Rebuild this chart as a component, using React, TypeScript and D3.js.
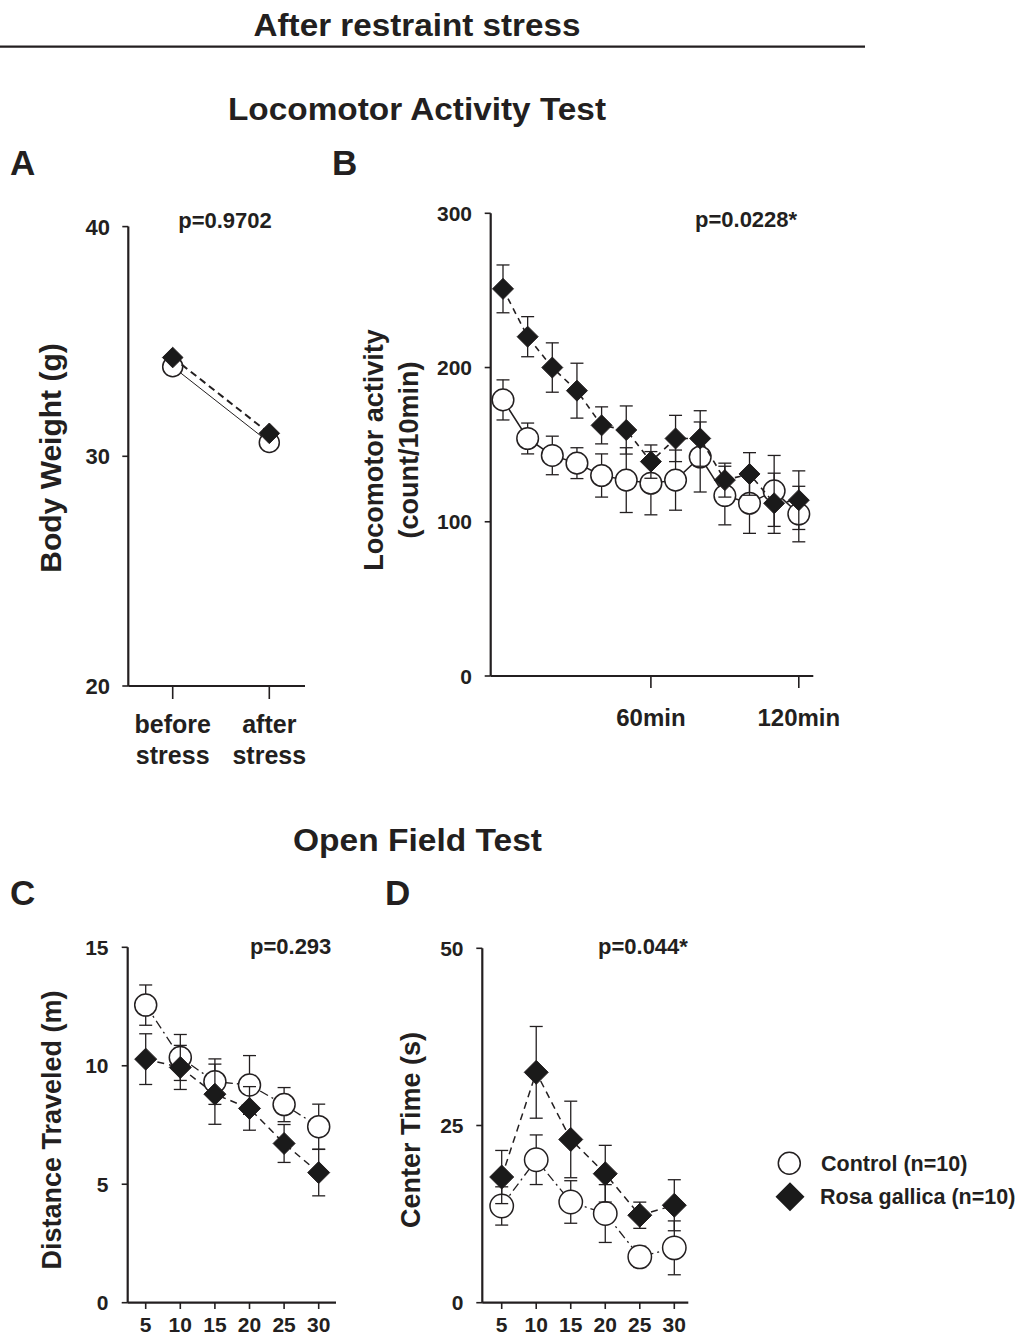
import React from 'react';
import * as d3 from 'd3';

const INK = '#231f20';
const FONT = '"Liberation Sans", Arial, Helvetica, sans-serif';

// A: body weight
const phases = ['before stress', 'after stress'];
const weightControl = [33.9, 30.6];
const weightRosa = [34.3, 31.0];
const weightTicks = [20, 30, 40];

// B: locomotor activity (count/10min)
const locoTimes = [0, 10, 20, 30, 40, 50, 60, 70, 80, 90, 100, 110, 120];
const locoControl = [179, 154, 143, 138, 130, 127, 125, 127, 142, 117, 112, 120, 105];
const locoControlErr = [13, 10, 12.5, 10, 14, 21, 20.5, 19.5, 22.7, 19, 19.5, 23, 18];
const locoRosa = [251, 220, 200, 185, 162.5, 159.5, 139, 154, 154, 127, 131, 112, 114];
const locoRosaErr = [15.5, 13, 16, 17.8, 12, 15.6, 10.8, 15, 18, 11, 13.8, 19.5, 19];
const locoTicks = [0, 100, 200, 300];
const locoTimeTicks = [60, 120];

// C, D: open field
const ofTimes = [5, 10, 15, 20, 25, 30];
const distControl = [12.56, 10.35, 9.33, 9.19, 8.36, 7.43];
const distControlErr = [0.85, 0.97, 0.96, 1.24, 0.72, 0.95];
const distRosa = [10.28, 9.93, 8.8, 8.2, 6.72, 5.49];
const distRosaErr = [1.07, 0.93, 1.27, 0.92, 0.8, 0.98];
const distTicks = [0, 5, 10, 15];
const centerControl = [13.65, 20.17, 14.21, 12.58, 6.47, 7.74];
const centerControlErr = [2.7, 3.5, 3.0, 4.08, 1.5, 3.8];
const centerRosa = [17.73, 32.5, 23.03, 18.2, 12.34, 13.75];
const centerRosaErr = [3.75, 6.47, 5.4, 4.0, 1.85, 3.6];
const centerTicks = [0, 25, 50];

const legendLabels = ['Control (n=10)', 'Rosa gallica (n=10)'];

function diamond(cx: number, cy: number, h: number) {
  return `M${cx},${cy - h}L${cx + h},${cy}L${cx},${cy + h}L${cx - h},${cy}Z`;
}

/**
 * Left axis with ticks and labels
 */
function YAxis({ y, ticks, x, labelEnd, size = 21 }) {
  const [y0, y1] = y.range();
  return <g>
    <line x1={x} x2={x} y1={y0} y2={y1} stroke={INK} strokeWidth={2.2} />
    {ticks.map((t) => <g key={t}>
      <line x1={x - 6} x2={x} y1={y(t)} y2={y(t)} stroke={INK} strokeWidth={1.6} />
      <text x={labelEnd} y={y(t)} dy='0.36em' textAnchor='end' fontSize={size} fontWeight='bold' fill={INK}>{t}</text>
    </g>)}
  </g>;
}

/**
 * One group: error bars, connecting line, markers
 */
function Series({ xs, vals, errs, x, y, kind, size, dash, lineWidth, cap = 6.5 }) {
  const pts = xs.map((d, i) => [x(d), y(vals[i])]);
  const line = d3.line();
  return <g>
    {errs && pts.map(([px], i) => {
      const top = y(vals[i] + errs[i]);
      const bot = y(vals[i] - errs[i]);
      return <g key={i} stroke={INK} strokeWidth={1.3}>
        <line x1={px} x2={px} y1={top} y2={bot} />
        <line x1={px - cap} x2={px + cap} y1={top} y2={top} />
        <line x1={px - cap} x2={px + cap} y1={bot} y2={bot} />
      </g>;
    })}
    <path d={line(pts)} fill='none' stroke={INK} strokeWidth={lineWidth} strokeDasharray={dash} />
    {pts.map(([px, py], i) => kind === 'circle'
      ? <circle key={i} cx={px} cy={py} r={size} fill='#fff' stroke={INK} strokeWidth={1.5} />
      : <path key={i} d={diamond(px, py, size)} fill='#1a1a1a' stroke={INK} strokeWidth={1} />)}
  </g>;
}

function Heading({ x, y, text, len, size = 31 }) {
  return <text x={x} y={y} textAnchor='middle' fontSize={size} fontWeight='bold' fill={INK}
    textLength={len} lengthAdjust='spacingAndGlyphs'>{text}</text>;
}

function YLabel({ x, y, lines, size }) {
  return <g>
    {lines.map((l, i) => <text key={i} transform={`translate(${x[i]},${y}) rotate(-90)`} textAnchor='middle'
      fontSize={size} fontWeight='bold' fill={INK}>{l}</text>)}
  </g>;
}

export default function App() {
  // A
  const xA = d3.scalePoint().domain(phases).range([172.7, 269.3]);
  const yA = d3.scaleLinear().domain([20, 40]).range([686, 226.6]);
  // B
  const xB = d3.scaleLinear().domain([0, 120]).range([503, 798.8]);
  const yB = d3.scaleLinear().domain([0, 300]).range([676, 213.3]);
  // C
  const xC = d3.scaleLinear().domain([5, 30]).range([145.7, 318.7]);
  const yC = d3.scaleLinear().domain([0, 15]).range([1302.7, 947.3]);
  // D
  const xD = d3.scaleLinear().domain([5, 30]).range([501.7, 674.3]);
  const yD = d3.scaleLinear().domain([0, 50]).range([1302.7, 948.3]);

  const bold = { fontWeight: 'bold' as const, fill: INK };

  return <svg width={1024} height={1337} style={{ position: 'absolute', left: 0, top: 0, background: '#fff' }}
    fontFamily={FONT}>
    <rect width={1024} height={1337} fill='#fff' />

    <Heading x={417} y={36} text='After restraint stress' len={327} />
    <line x1={0} x2={865} y1={46.7} y2={46.7} stroke={INK} strokeWidth={2.2} />
    <Heading x={417} y={120} text='Locomotor Activity Test' len={378} />
    <text x={10} y={175} fontSize={35} {...bold}>A</text>
    <text x={332} y={175} fontSize={35} {...bold}>B</text>

    {/* A */}
    <YAxis y={yA} ticks={weightTicks} x={128.3} labelEnd={110} size={22} />
    <line x1={128.3} x2={305} y1={686} y2={686} stroke={INK} strokeWidth={2.2} />
    {phases.map((p) => <g key={p}>
      <line x1={xA(p)} x2={xA(p)} y1={686} y2={699} stroke={INK} strokeWidth={1.6} />
      {p.split(' ').map((w, i) => <text key={w} x={xA(p)} y={733 + i * 31} textAnchor='middle' fontSize={25} {...bold}>{w}</text>)}
    </g>)}
    <text x={225} y={228} textAnchor='middle' fontSize={22} {...bold}>p=0.9702</text>
    <YLabel x={[61]} y={458} lines={['Body Weight (g)']} size={30} />
    <Series xs={phases} vals={weightControl} errs={null} x={xA} y={yA} kind='circle' size={10} lineWidth={1} dash={null} />
    <Series xs={phases} vals={weightRosa} errs={null} x={xA} y={yA} kind='diamond' size={10.3} lineWidth={2} dash='7 4.5' />

    {/* B */}
    <YAxis y={yB} ticks={locoTicks} x={490.7} labelEnd={472} />
    <line x1={490.7} x2={813.3} y1={676} y2={676} stroke={INK} strokeWidth={2.2} />
    {locoTimeTicks.map((t) => <g key={t}>
      <line x1={xB(t)} x2={xB(t)} y1={676} y2={688} stroke={INK} strokeWidth={1.6} />
      <text x={xB(t)} y={726} textAnchor='middle' fontSize={24} {...bold}>{t}min</text>
    </g>)}
    <text x={695} y={227} fontSize={22} {...bold}>p=0.0228*</text>
    <YLabel x={[383, 418]} y={450} lines={['Locomotor activity', '(count/10min)']} size={27} />
    <Series xs={locoTimes} vals={locoControl} errs={locoControlErr} x={xB} y={yB} kind='circle' size={10.8} lineWidth={1.5} dash={null} />
    <Series xs={locoTimes} vals={locoRosa} errs={locoRosaErr} x={xB} y={yB} kind='diamond' size={10.5} lineWidth={1.6} dash='6 5' />

    <Heading x={417.5} y={851} text='Open Field Test' len={249} />
    <text x={10} y={905} fontSize={35} {...bold}>C</text>
    <text x={385} y={905} fontSize={35} {...bold}>D</text>

    {/* C */}
    <YAxis y={yC} ticks={distTicks} x={127.7} labelEnd={108.5} />
    <line x1={127.7} x2={336} y1={1302.7} y2={1302.7} stroke={INK} strokeWidth={2.2} />
    {ofTimes.map((t) => <g key={t}>
      <line x1={xC(t)} x2={xC(t)} y1={1302.7} y2={1309} stroke={INK} strokeWidth={1.6} />
      <text x={xC(t)} y={1332} textAnchor='middle' fontSize={21} {...bold}>{t}</text>
    </g>)}
    <text x={250} y={954} fontSize={22} {...bold}>p=0.293</text>
    <YLabel x={[61]} y={1130} lines={['Distance Traveled (m)']} size={27} />
    <Series xs={ofTimes} vals={distControl} errs={distControlErr} x={xC} y={yC} kind='circle' size={11} lineWidth={1.3} dash='9 4 2 4' />
    <Series xs={ofTimes} vals={distRosa} errs={distRosaErr} x={xC} y={yC} kind='diamond' size={11} lineWidth={1.5} dash='7 5' />

    {/* D */}
    <YAxis y={yD} ticks={centerTicks} x={482.3} labelEnd={463.5} />
    <line x1={482.3} x2={688.3} y1={1302.7} y2={1302.7} stroke={INK} strokeWidth={2.2} />
    {ofTimes.map((t) => <g key={t}>
      <line x1={xD(t)} x2={xD(t)} y1={1302.7} y2={1309} stroke={INK} strokeWidth={1.6} />
      <text x={xD(t)} y={1332} textAnchor='middle' fontSize={21} {...bold}>{t}</text>
    </g>)}
    <text x={598} y={954} fontSize={22} {...bold}>p=0.044*</text>
    <YLabel x={[420]} y={1130} lines={['Center Time (s)']} size={27} />
    <Series xs={ofTimes} vals={centerControl} errs={centerControlErr} x={xD} y={yD} kind='circle' size={11.7} lineWidth={1.3} dash='9 4 2 4' />
    <Series xs={ofTimes} vals={centerRosa} errs={centerRosaErr} x={xD} y={yD} kind='diamond' size={12} lineWidth={1.5} dash='7 5' />

    {/* legend */}
    <circle cx={789.3} cy={1163.3} r={11} fill='#fff' stroke={INK} strokeWidth={1.5} />
    <text x={821} y={1171} fontSize={21.5} {...bold}>{legendLabels[0]}</text>
    <path d={diamond(790, 1196.7, 14.5)} fill='#1a1a1a' />
    <text x={820} y={1204} fontSize={21.5} {...bold}>{legendLabels[1]}</text>
  </svg>;
}
